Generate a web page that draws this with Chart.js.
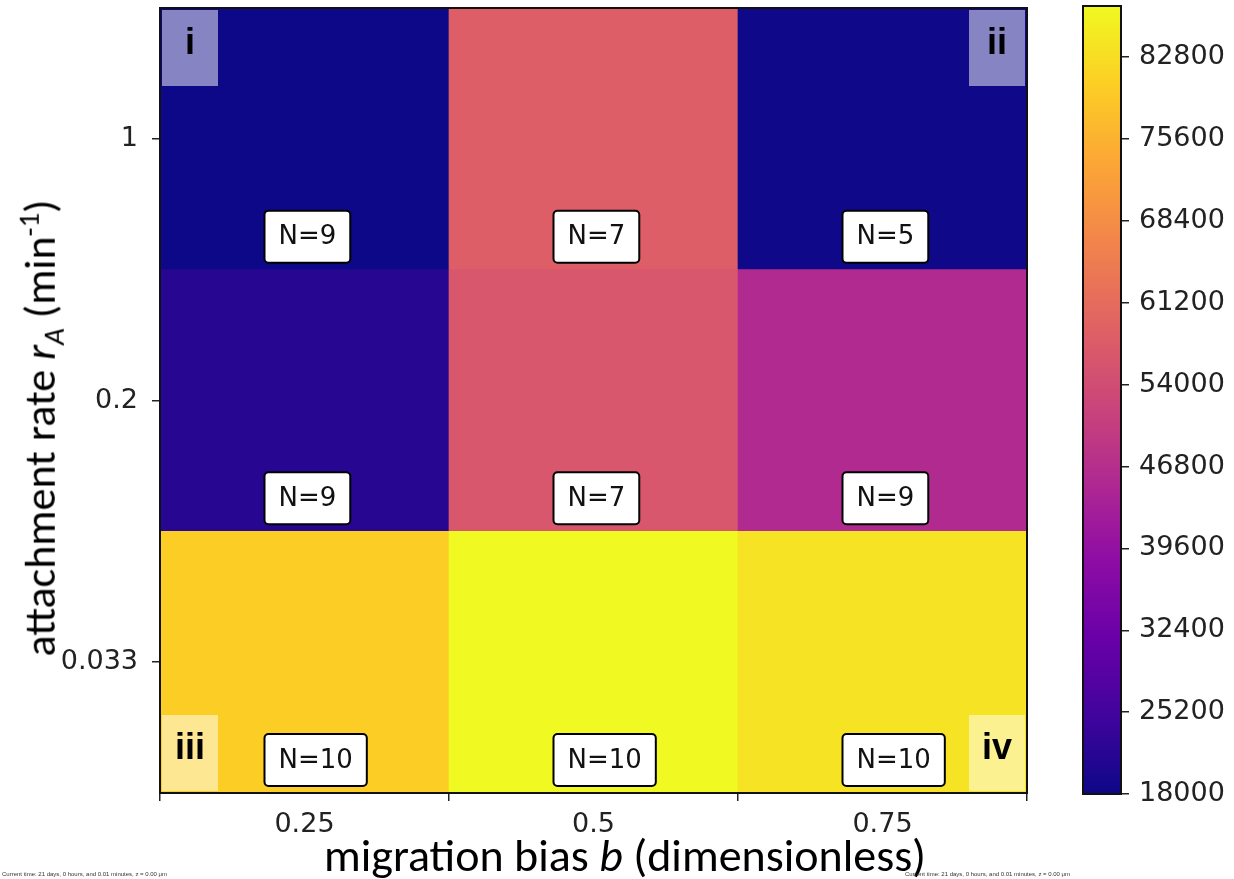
<!DOCTYPE html>
<html>
<head>
<meta charset="utf-8">
<script src="https://cdn.jsdelivr.net/npm/chart.js@4.4.1/dist/chart.umd.min.js"></script>
<style>
  html, body { margin:0; padding:0; background:#fff; width:1234px; height:879px; overflow:hidden; position:relative; }
  #main { position:absolute; left:0; top:0; }
  #cbar { position:absolute; left:1060px; top:0; }
  .ttl { position:absolute; font-family:'Liberation Sans Narrow','Carlito','Open Sans',sans-serif; font-size:46px; color:#000; white-space:nowrap; line-height:1; }
  #xt { left:625px; top:832px; transform:translateX(-50%); }
  #yt { left:42px; top:428px; font-size:44px; transform:translate(-50%,-50%) rotate(-90deg); }
  .tiny { position:absolute; top:871px; font-family:'Liberation Sans Narrow','Liberation Sans',sans-serif; font-size:6px; color:#333; white-space:nowrap; }
</style>
</head>
<body>
<canvas id="main" width="1060" height="879"></canvas>
<canvas id="cbar" width="174" height="879"></canvas>
<div class="ttl" id="xt">migration bias <i>b</i> (dimensionless)</div>
<div class="ttl" id="yt">attachment rate <i>r</i><sub style="font-size:29px"><i>A</i></sub> (min<sup style="font-size:29px">-1</sup>)</div>
<div class="tiny" style="left:2px">Current time: 21 days, 0 hours, and 0.01 minutes, z = 0.00 μm</div>
<div class="tiny" style="left:905px">Current time: 21 days, 0 hours, and 0.01 minutes, z = 0.00 μm</div>
<script>
// ---- data ----
const biasLabels = ['0.25', '0.5', '0.75'];
const rateLabels = ['0.033', '0.2', '1'];          // bottom to top
const rate0033 = [80400, 87300, 83800];
const rate02   = [21500, 56500, 45700];
const rate1    = [18000, 58200, 18300];
const count0033 = [10, 10, 10];
const count02   = [9, 7, 9];
const count1    = [9, 7, 5];
const cornerLabels = ['i', 'ii', 'iii', 'iv'];
const cbarTicks = [18000, 25200, 32400, 39600, 46800, 54000, 61200, 68400, 75600, 82800];

const rows = [rate0033, rate02, rate1];
const counts = [count0033, count02, count1];
const vmin = Math.min(...rate0033, ...rate02, ...rate1);
const vmax = Math.max(...rate0033, ...rate02, ...rate1);

// matplotlib plasma stops
const plasmaStops = ['#0d0887','#41049d','#6a00a8','#8f0da4','#b12a90','#cc4778','#e16462','#f2844b','#fca636','#fcce25','#f0f921'];
function hex2rgb(h){ return [parseInt(h.slice(1,3),16),parseInt(h.slice(3,5),16),parseInt(h.slice(5,7),16)]; }
function plasma(t){
  t = Math.max(0, Math.min(1, t));
  const f = t * 10, i = Math.min(9, Math.floor(f)), u = f - i;
  const a = hex2rgb(plasmaStops[i]), b = hex2rgb(plasmaStops[i+1]);
  return 'rgb(' + a.map((v,k)=>Math.round(v + (b[k]-v)*u)).join(',') + ')';
}
const norm = v => (v - vmin) / (vmax - vmin);

const tickFont = { family: 'DejaVu Sans', size: 27 };

const annot = {
  id: 'annot',
  afterDatasetsDraw(chart) {
    const ctx = chart.ctx, ca = chart.chartArea;
    const xs = chart.scales.x, ys = chart.scales.y;
    ctx.save();
    // N boxes
    ctx.font = '26px "DejaVu Sans"';
    ctx.textBaseline = 'middle';
    ctx.textAlign = 'left';
    for (let r = 0; r < rows.length; r++) {
      for (let c = 0; c < biasLabels.length; c++) {
        const txt = 'N=' + counts[r][c];
        const w = ctx.measureText(txt).width + 28;
        const h = 52;
        const left = xs.getPixelForValue(c) - 40;
        const cy = ys.getPixelForValue(r) - 33;
        ctx.beginPath();
        ctx.roundRect(left, cy - h/2, w, h, 4);
        ctx.fillStyle = '#fff'; ctx.fill();
        ctx.lineWidth = 2; ctx.strokeStyle = '#000'; ctx.stroke();
        ctx.fillStyle = '#111';
        ctx.fillText(txt, left + 14, cy + 1);
      }
    }
    // corner labels
    const bw = 56, bh = 76, m = 2;
    const corners = [
      [ca.left + m, ca.top + m],
      [ca.right - m - bw, ca.top + m],
      [ca.left + m, ca.bottom - m - bh],
      [ca.right - m - bw, ca.bottom - m - bh]
    ];
    ctx.font = 'bold 36px "Liberation Sans Narrow", "Liberation Sans", sans-serif';
    ctx.textAlign = 'center';
    corners.forEach((p, i) => {
      ctx.fillStyle = 'rgba(255,255,255,0.5)';
      ctx.fillRect(p[0], p[1], bw, bh);
      ctx.fillStyle = '#000';
      ctx.fillText(cornerLabels[i], p[0] + bw/2, p[1] + bh/2 - 4);
    });
    // frame
    ctx.lineWidth = 2; ctx.strokeStyle = '#111';
    ctx.strokeRect(ca.left, ca.top, ca.right - ca.left, ca.bottom - ca.top);
    ctx.restore();
  }
};

new Chart(document.getElementById('main'), {
  type: 'bar',
  data: {
    labels: biasLabels,
    datasets: rows.map((vals, r) => ({
      label: rateLabels[r],
      data: vals.map(() => 1),
      backgroundColor: vals.map(v => plasma(norm(v))),
      borderWidth: 0,
      barPercentage: 1,
      categoryPercentage: 1,
      stack: 's'
    }))
  },
  options: {
    responsive: false,
    animation: false,
    events: [],
    layout: { padding: { top: 8, right: 33, left: 0, bottom: 0 } },
    plugins: { legend: { display: false }, tooltip: { enabled: false } },
    scales: {
      x: {
        stacked: true,
        grid: { drawOnChartArea: false, tickLength: 8, color: '#222', lineWidth: 1.5 },
        border: { display: false },
        ticks: { font: tickFont, color: '#222', padding: 8, maxRotation: 0 },
        afterFit(s) { s.height = 86; s.paddingLeft = 0; s.paddingRight = 0; }
      },
      y: {
        stacked: true,
        min: 0, max: 3,
        grid: { drawOnChartArea: false, tickLength: 8, color: '#222', lineWidth: 1.5 },
        border: { display: false },
        afterBuildTicks(s) { s.ticks = [0.5, 1.5, 2.5].map(v => ({ value: v })); },
        ticks: { font: tickFont, color: '#222', padding: 14, callback: v => rateLabels[Math.floor(v)] },
        afterFit(s) { s.width = 160; s.paddingTop = 0; s.paddingBottom = 0; }
      }
    }
  },
  plugins: [annot]
});

const cbFrame = {
  id: 'cbFrame',
  afterDatasetsDraw(chart) {
    const ctx = chart.ctx, ca = chart.chartArea;
    ctx.save();
    ctx.lineWidth = 2; ctx.strokeStyle = '#111';
    ctx.strokeRect(ca.left, ca.top, ca.right - ca.left, ca.bottom - ca.top);
    ctx.restore();
  }
};

new Chart(document.getElementById('cbar'), {
  type: 'bar',
  data: {
    labels: ['cb'],
    datasets: [{
      data: [[vmin, vmax]],
      borderWidth: 0,
      barPercentage: 1,
      categoryPercentage: 1,
      backgroundColor(c) {
        const ca = c.chart.chartArea;
        if (!ca) return '#888';
        const g = c.chart.ctx.createLinearGradient(0, ca.bottom, 0, ca.top);
        plasmaStops.forEach((s, i) => g.addColorStop(i / 10, s));
        return g;
      }
    }]
  },
  options: {
    responsive: false,
    animation: false,
    events: [],
    layout: { padding: { top: 6, right: 0, left: 23, bottom: 85 } },
    plugins: { legend: { display: false }, tooltip: { enabled: false } },
    scales: {
      x: { display: false },
      y: {
        position: 'right',
        min: vmin, max: vmax,
        grid: { drawOnChartArea: false, tickLength: 8, color: '#222', lineWidth: 1.5 },
        border: { display: false },
        afterBuildTicks(s) { s.ticks = cbarTicks.map(v => ({ value: v })); },
        ticks: { font: { family: 'DejaVu Sans', size: 27 }, color: '#222', padding: 10, callback: v => String(v) },
        afterFit(s) { s.width = 113; s.paddingTop = 0; s.paddingBottom = 0; }
      }
    }
  },
  plugins: [cbFrame]
});
</script>
</body>
</html>
